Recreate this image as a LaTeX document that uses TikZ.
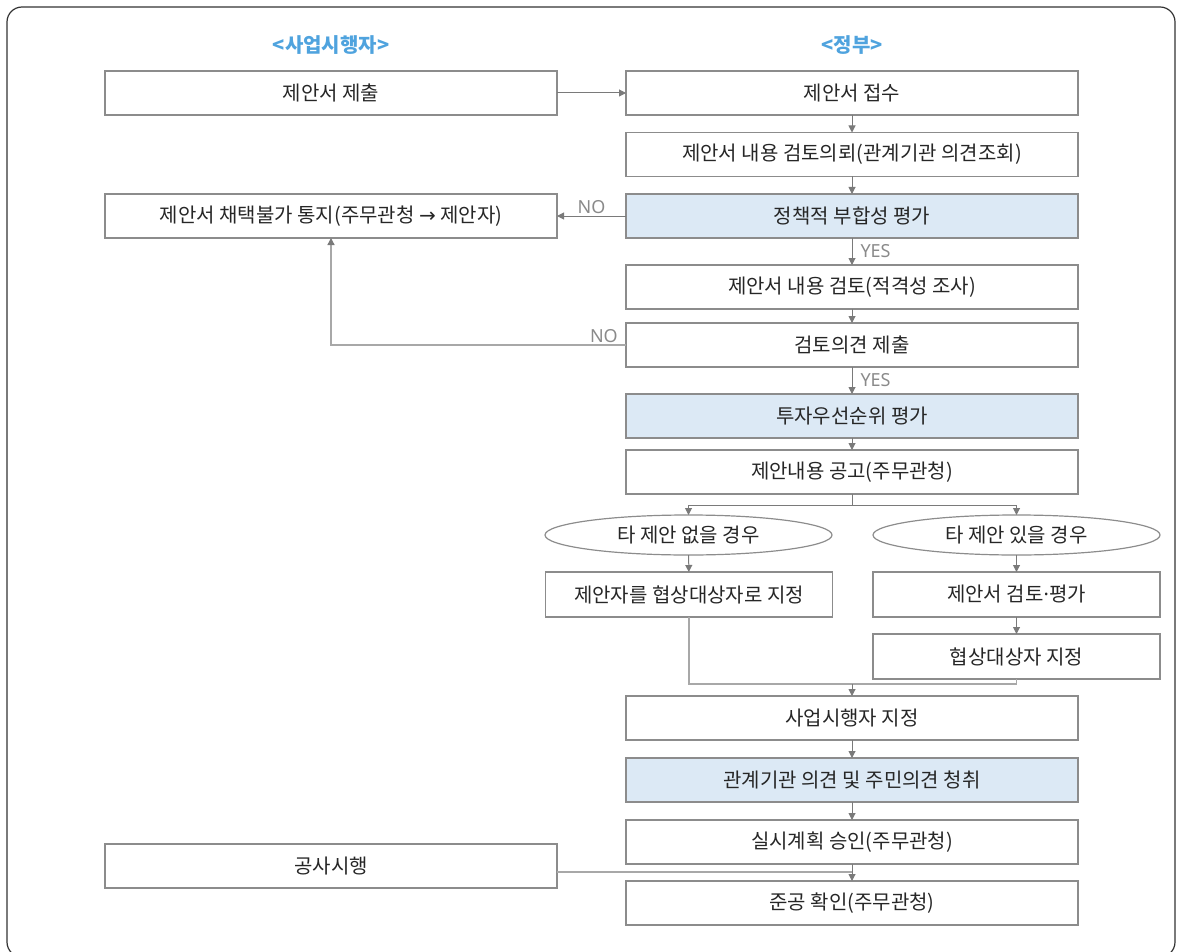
\documentclass[tikz,border=0pt]{standalone}
\usepackage{fontspec}
\setmainfont{Noto Sans CJK KR}
\newfontfamily\latfont{Noto Sans}
\newfontfamily\symfont{DejaVu Sans}
\usetikzlibrary{arrows.meta,shapes.geometric}
\definecolor{boxline}{HTML}{8C8C8C}
\definecolor{arrline}{HTML}{7A7A7A}
\definecolor{lightline}{HTML}{A8A8A8}
\definecolor{hdr}{HTML}{4FA3DE}
\definecolor{bluefill}{HTML}{DCE9F5}
\definecolor{lbl}{HTML}{8A8A8A}
\definecolor{frame}{HTML}{333333}
\tikzset{
  every node/.style={font=\fontsize{20}{22}\selectfont, text=black!85},
  gbox/.style={draw=boxline, line width=1.2pt, rectangle, minimum width=452pt, minimum height=44pt, inner sep=0pt, outer sep=0pt},
  sbox/.style={draw=boxline, line width=1.2pt, rectangle, minimum width=287pt, minimum height=45pt, inner sep=0pt, outer sep=0pt},
  hl/.style={fill=bluefill},
  oval/.style={draw=boxline, line width=1.2pt, ellipse, minimum width=287pt, minimum height=40pt, inner sep=0pt, outer sep=0pt},
  arr/.style={draw=arrline, line width=1pt, -{Triangle[length=7pt,width=7pt]}},
  plain/.style={draw=arrline, line width=1pt},
  fb/.style={draw=lightline, line width=1.3pt},
  fbarr/.style={draw=lightline, line width=1.3pt, -{Triangle[length=7pt,width=7pt,color=arrline]}},
  yn/.style={font=\fontsize{18}{20}\selectfont\latfont, text=lbl, inner sep=2pt},
  hdrtxt/.style={font=\fontsize{20}{22}\selectfont\bfseries, text=hdr}
}
\begin{document}
\begin{tikzpicture}[x=1pt,y=-1pt]
\useasboundingbox (0,0) rectangle (1177,952);
\begin{scope}
\clip (0,0) rectangle (1177,952);
\draw[frame, line width=1.2pt, rounded corners=15pt] (7,7) rectangle (1175,957);
\end{scope}

\node[hdrtxt] (h1) at (331,45) {<사업시행자>};
\node[hdrtxt] (h2) at (852,45) {<정부>};

\node[gbox] (sub) at (331,93) {제안서 제출};
\node[gbox] (rec) at (852,93) {제안서 접수};
\node[gbox] (req) at (852,154.5) {제안서 내용 검토의뢰(관계기관 의견조회)};
\node[gbox,hl] (pol) at (852,216) {정책적 부합성 평가};
\node[gbox] (rej) at (331,216) {제안서 채택불가 통지(주무관청 {\symfont →} 제안자)};
\node[gbox] (rev) at (852,287) {제안서 내용 검토(적격성 조사)};
\node[gbox] (opi) at (852,345) {검토의견 제출};
\node[gbox,hl] (inv) at (852,416) {투자우선순위 평가};
\node[gbox] (ann) at (852,472) {제안내용 공고(주무관청)};
\node[oval] (e1) at (688.5,535) {타 제안 없을 경우};
\node[oval] (e2) at (1016.5,535) {타 제안 있을 경우};
\node[sbox] (d1) at (689,594.5) {제안자를 협상대상자로 지정};
\node[sbox] (d2) at (1016.5,594.5) {제안서 검토{\latfont ·}평가};
\node[sbox] (d3) at (1016.5,656.5) {협상대상자 지정};
\node[gbox] (des) at (852,718) {사업시행자 지정};
\node[gbox,hl] (hear) at (852,780) {관계기관 의견 및 주민의견 청취};
\node[gbox] (appr) at (852,842) {실시계획 승인(주무관청)};
\node[gbox] (con) at (331,866) {공사시행};
\node[gbox] (comp) at (852,903) {준공 확인(주무관청)};

\coordinate (f) at (852,505);
\coordinate (j) at (852,684);
\coordinate (k) at (852,872);

\draw[arr] (sub) -- (rec);
\draw[arr] (rec) -- (req);
\draw[arr] (req) -- (pol);
\draw[arr] (pol) -- node[yn,above]{NO} (rej);
\draw[arr] (pol) -- node[yn,right,xshift=6pt]{YES} (rev);
\draw[arr] (rev) -- (opi);
\draw[fbarr] (opi.west) -- node[yn,above,pos=0.075]{NO} (opi.west -| rej.south) -- (rej.south);
\draw[arr] (opi) -- node[yn,right,xshift=6pt]{YES} (inv);
\draw[arr] (inv) -- (ann);
\draw[plain] (ann.south) -- (f);
\draw[arr] (f) -| (e1.north);
\draw[arr] (f) -| (e2.north);
\draw[arr] (e1) -- (d1);
\draw[arr] (e2) -- (d2);
\draw[arr] (d2) -- (d3);
\draw[fb] (d1.south) |- (j);
\draw[fb] (d3.south) |- (j);
\draw[arr] (j) -- (des.north);
\draw[arr] (des) -- (hear);
\draw[arr] (hear) -- (appr);
\draw[fb] (con.east |- k) -- (k);
\draw[arr] (appr) -- (comp);
\end{tikzpicture}
\end{document}
